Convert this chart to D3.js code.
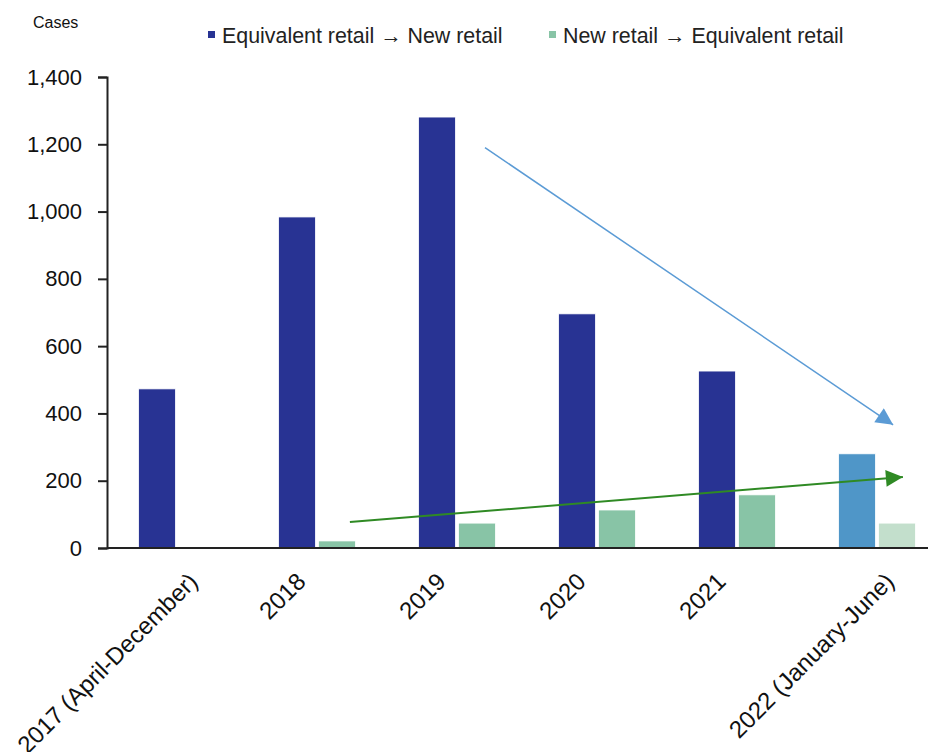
<!DOCTYPE html>
<html>
<head>
<meta charset="utf-8">
<script src="https://cdn.jsdelivr.net/npm/d3@7"></script>
<style>
  html, body { margin: 0; padding: 0; background: #fff; }
  svg { display: block; font-family: "Liberation Sans", Arial, sans-serif; }
</style>
</head>
<body>
<svg id="chart" width="928" height="752"></svg>
<script>
// Categories (x axis)
const categories = ["2017 (April-December)", "2018", "2019", "2020", "2021", "2022 (January-June)"];
// Series names
const seriesNames = ["Equivalent retail \u2192 New retail", "New retail \u2192 Equivalent retail"];
// Case counts per series
const toNewRetail = [473, 984, 1281, 696, 526, 280];
const toEquivalentRetail = [0, 21, 74, 113, 158, 74];
// Y axis ticks
const yTicks = [0, 200, 400, 600, 800, 1000, 1200, 1400];

const seriesColors = ["#283393", "#88c4a6"];
const latestColors = ["#4f96c8", "#c3dfcc"];
const latestCategory = "2022 (January-June)";

const svg = d3.select("#chart");
const W = 928, H = 752;
const plot = { left: 107, top: 77, bottom: 548, right: 947 };

const x = d3.scaleBand()
  .domain(categories)
  .range([plot.left, plot.right])
  .paddingInner(0.45)
  .paddingOuter(0.225);

const x1 = d3.scaleBand()
  .domain([0, 1])
  .range([0, x.bandwidth()])
  .paddingInner(0.075);

const y = d3.scaleLinear()
  .domain([0, 1400])
  .range([plot.bottom, plot.top]);

const rows = categories.map((c, i) => ({ cat: c, values: [toNewRetail[i], toEquivalentRetail[i]] }));

// Bars
const groups = svg.append("g").selectAll("g")
  .data(rows).join("g")
  .attr("transform", d => `translate(${x(d.cat)},0)`);

groups.selectAll("rect")
  .data(d => d.values.map((v, k) => ({ v, k, cat: d.cat })))
  .join("rect")
  .filter(d => d.v > 0)
  .attr("x", d => x1(d.k))
  .attr("y", d => y(d.v))
  .attr("width", x1.bandwidth())
  .attr("height", d => y(0) - y(d.v))
  .attr("fill", d => (d.cat === latestCategory ? latestColors : seriesColors)[d.k])
  .attr("stroke", "#ffffff")
  .attr("stroke-width", 0.8);

// Y axis
const yAxis = d3.axisLeft(y)
  .tickValues(yTicks)
  .tickFormat(d3.format(","))
  .tickSize(9)
  .tickPadding(16);

const gy = svg.append("g")
  .attr("transform", `translate(${plot.left},0)`)
  .call(yAxis);
gy.select(".domain").attr("stroke", "#222").attr("stroke-width", 2);
gy.selectAll(".tick line").attr("stroke", "#222").attr("stroke-width", 2);
gy.selectAll(".tick text")
  .attr("fill", "#111")
  .style("font-size", "22px")
  .style("font-family", "'Liberation Sans', Arial, sans-serif");

// X axis baseline
svg.append("line")
  .attr("x1", plot.left).attr("x2", W)
  .attr("y1", y(0)).attr("y2", y(0))
  .attr("stroke", "#222").attr("stroke-width", 2);

// X axis labels, rotated; longer labels sit a little further right
const xLabels = svg.append("g").selectAll("text")
  .data(categories).join("text")
  .attr("text-anchor", "end")
  .attr("fill", "#111")
  .style("font-size", "24px")
  .text(d => d);
xLabels.attr("transform", function (d) {
  const len = this.getComputedTextLength();
  const cx = x(d) + x.bandwidth() / 2 - 19 + 0.17 * len;
  return `translate(${cx},${y(0) + 35}) rotate(-45)`;
});

// Unit label
svg.append("text")
  .attr("x", 33).attr("y", 28)
  .attr("fill", "#111")
  .style("font-size", "16px")
  .text("Cases");

// Legend
const legendX = [208, 549];
const legend = svg.append("g").selectAll("g")
  .data(seriesNames).join("g")
  .attr("transform", (d, i) => `translate(${legendX[i]},0)`);
legend.append("rect")
  .attr("x", 0).attr("y", 31).attr("width", 7).attr("height", 7)
  .attr("fill", (d, i) => seriesColors[i]);
legend.append("text")
  .attr("x", 14).attr("y", 42.5)
  .attr("fill", "#222")
  .style("font-size", "21.4px")
  .text(d => d);

// Trend arrows
const defs = svg.append("defs");
function marker(id, color) {
  defs.append("marker")
    .attr("id", id)
    .attr("viewBox", "0 0 10 10")
    .attr("refX", 10).attr("refY", 5)
    .attr("markerUnits", "userSpaceOnUse")
    .attr("markerWidth", 19).attr("markerHeight", 17)
    .attr("orient", "auto")
    .append("path")
    .attr("d", "M0,0 L10,5 L0,10 Z")
    .attr("fill", color);
}
marker("arrowBlue", "#5b9bd5");
marker("arrowGreen", "#2f8a24");

const step = x.step();
const arrows = [
  { from: ["2019", 0.475, 1190], to: ["2022 (January-June)", 0.39, 366], color: "#5b9bd5", width: 1.5, id: "arrowBlue" },
  { from: ["2018", 0.51, 77], to: ["2022 (January-June)", 0.46, 211], color: "#2f8a24", width: 2, id: "arrowGreen" }
];
svg.append("g").selectAll("line")
  .data(arrows).join("line")
  .attr("x1", d => x(d.from[0]) + d.from[1] * step)
  .attr("y1", d => y(d.from[2]))
  .attr("x2", d => x(d.to[0]) + d.to[1] * step)
  .attr("y2", d => y(d.to[2]))
  .attr("stroke", d => d.color)
  .attr("stroke-width", d => d.width)
  .attr("marker-end", d => `url(#${d.id})`);
</script>
</body>
</html>
